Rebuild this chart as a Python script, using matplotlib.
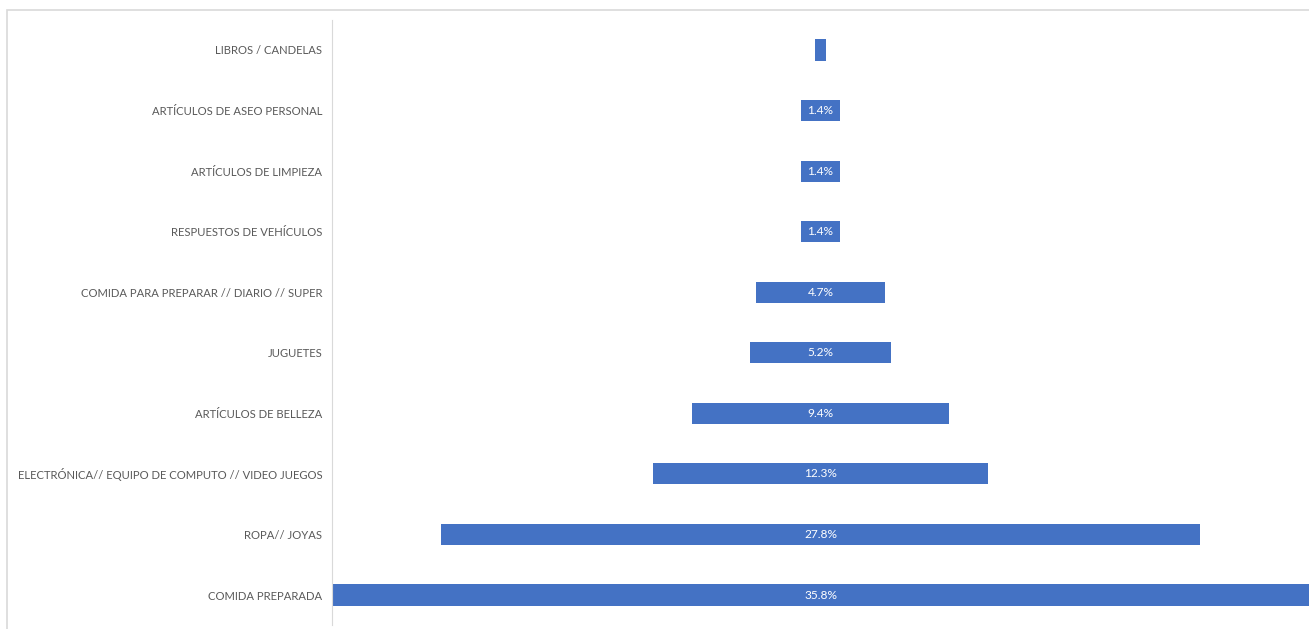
import matplotlib.pyplot as plt
from matplotlib.patches import Rectangle

# categorias de abajo hacia arriba
categorias = [
    'COMIDA PREPARADA',
    'ROPA// JOYAS',
    'ELECTRÓNICA// EQUIPO DE COMPUTO // VIDEO JUEGOS',
    'ARTÍCULOS DE BELLEZA',
    'JUGUETES',
    'COMIDA PARA PREPARAR // DIARIO // SUPER',
    'RESPUESTOS DE VEHÍCULOS',
    'ARTÍCULOS DE LIMPIEZA',
    'ARTÍCULOS DE ASEO PERSONAL',
    'LIBROS / CANDELAS',
]
valores = [35.8, 27.8, 12.3, 9.4, 5.2, 4.7, 1.4, 1.4, 1.4, 0.4]

plt.rcParams['font.family'] = ['Lato', 'DejaVu Sans']

fig = plt.figure(figsize=(13.09, 6.29), dpi=100)
ax = fig.add_axes([332 / 1309, 3.7 / 629, 977 / 1309, 605.6 / 629])

# borde del area del grafico
fig.add_artist(Rectangle((7 / 1309, -0.1), 1.2, (629 - 10) / 629 + 0.1,
                         transform=fig.transFigure, fill=False,
                         edgecolor='#d9d9d9', linewidth=1.2))

y = list(range(len(categorias)))
izq = [-v / 2 for v in valores]
ax.barh(y, valores, left=izq, height=0.35, color='#4472C4')

for yi, v in zip(y, valores):
    if v < 1:
        continue
    ax.text(0, yi, f'{v:.1f}%', ha='center', va='center',
            color='white', fontsize=8.6)

mx = max(valores) / 2
ax.set_xlim(-mx, mx)
ax.set_ylim(-0.5, len(categorias) - 0.5)
ax.set_yticks(y)
ax.set_yticklabels(categorias, fontsize=8.1, color='#595959')
ax.tick_params(axis='y', length=0, pad=7)
ax.set_xticks([])
for s in ['top', 'right', 'bottom']:
    ax.spines[s].set_visible(False)
ax.spines['left'].set_color('#d9d9d9')

fig.savefig('out.png', dpi=100)
